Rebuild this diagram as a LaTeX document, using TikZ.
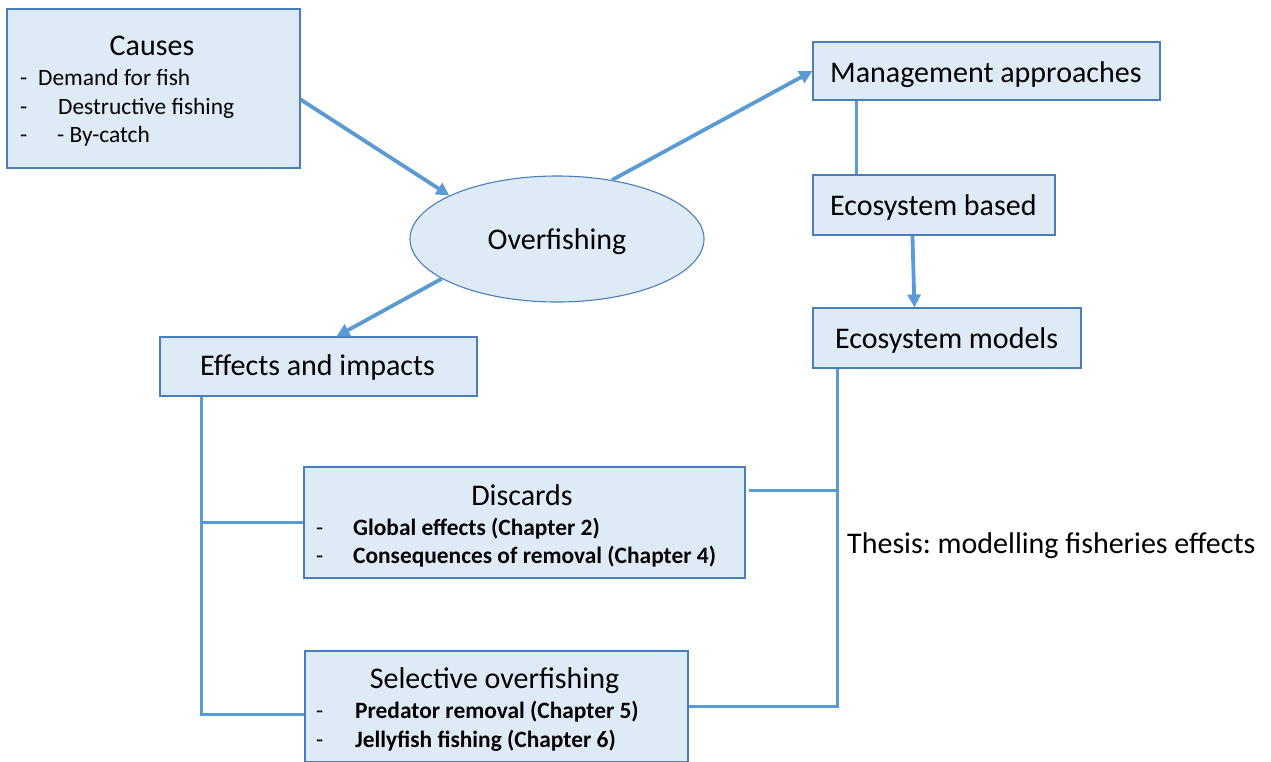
\documentclass[tikz,border=0pt]{standalone}
\usepackage{fontspec}
\setmainfont{Carlito}
\usetikzlibrary{arrows.meta,shapes.geometric,positioning}
\frenchspacing

\definecolor{linkblue}{HTML}{5B9BD5}
\definecolor{boxfill}{HTML}{DEEBF7}
\definecolor{boxline}{HTML}{4A7EBB}

\tikzset{
  topic/.style={draw=boxline,fill=boxfill,line width=1.1pt,inner sep=0pt},
  link/.style={draw=linkblue,line width=3.8pt},
  flow/.style={link,-{Triangle[length=13pt,width=13pt]}},
  head/.style={font=\fontsize{30}{34}\selectfont,inner sep=0pt},
  item/.style={font=\fontsize{23.4}{27}\selectfont,inner sep=0pt,anchor=base west},
  bitem/.style={item,font=\fontsize{23.4}{27}\selectfont\bfseries}
}

\begin{document}
\begin{tikzpicture}[x=1pt,y=-1pt]
\useasboundingbox (0,0) rectangle (1271,761);

\node[topic,minimum width=293pt,minimum height=159pt] (causes) at (153.5,88.5) {};
\node[head,anchor=base] (causest) at (152,55) {Causes};
\def\clist{85/38/{Demand for fish},114/58/{Destructive fishing},142/57/{- By-catch}}
\foreach \y/\x/\element in \clist {
  \node[item] (cd\y) at (20,\y) {-};
  \node[item] (ct\y) at (\x,\y) {\element};
}

\node[topic,ellipse,minimum width=294pt,minimum height=126pt] (overfish) at (557,239) {};
\node[head,anchor=base] (overfisht) at (557,249) {Overfishing};

\node[topic,minimum width=347pt,minimum height=58pt] (manage) at (986.5,71) {};
\node[head,anchor=base west] at (830,82) {Management approaches};

\node[topic,minimum width=242pt,minimum height=60pt] (ecobased) at (934,205) {};
\node[head,anchor=base west] at (830,215) {Ecosystem based};

\node[topic,minimum width=268pt,minimum height=60pt] (ecomodels) at (947,338) {};
\node[head,anchor=base west] at (835,348) {Ecosystem models};

\node[topic,minimum width=317pt,minimum height=59pt] (effects) at (318.5,366.5) {};
\node[head,anchor=base west] at (200,375) {Effects and impacts};

\node[topic,minimum width=441pt,minimum height=111pt] (discards) at (524.5,522.5) {};
\node[head,anchor=base] at (522,505) {Discards};
\def\dlist{535/{Global effects (Chapter 2)},563/{Consequences of removal (Chapter 4)}}
\foreach \y/\element in \dlist {
  \node[item] (dd\y) at (316,\y) {-};
  \node[bitem] (dt\y) at (353,\y) {\element};
}

\node[topic,minimum width=383pt,minimum height=111pt] (selective) at (496.5,706.5) {};
\node[head,anchor=base] at (494.5,688) {Selective overfishing};
\def\slist{718/{Predator removal (Chapter 5)},747/{Jellyfish fishing (Chapter 6)}}
\foreach \y/\element in \slist {
  \node[item] (sd\y) at (316,\y) {-};
  \node[bitem] (st\y) at (355,\y) {\element};
}

\node[head,anchor=base west] (thesis) at (847,553) {Thesis: modelling fisheries effects};

\draw[flow] ([yshift=-11pt]causes.east) -- (overfish.158);
\draw[flow] (overfish.47) -- (manage.west);
\draw[flow] (overfish.199) -- ([xshift=18pt]effects.north);
\draw[link] ([xshift=44pt]manage.south west) -- ([xshift=44pt]ecobased.north west);
\draw[flow] ([xshift=100pt]ecobased.south west) -- ([xshift=102pt]ecomodels.north west);

\coordinate (trunk) at ([xshift=42pt]effects.south west);
\draw[link] (trunk) |- ([yshift=-8pt]selective.west);
\draw[link] (discards.west) -| (trunk);

\coordinate (spine) at ([xshift=25pt]ecomodels.south west);
\draw[link] ([xshift=3pt,yshift=32pt]discards.east) -| (spine);
\draw[link] (selective.east) -| (spine);

\end{tikzpicture}
\end{document}
